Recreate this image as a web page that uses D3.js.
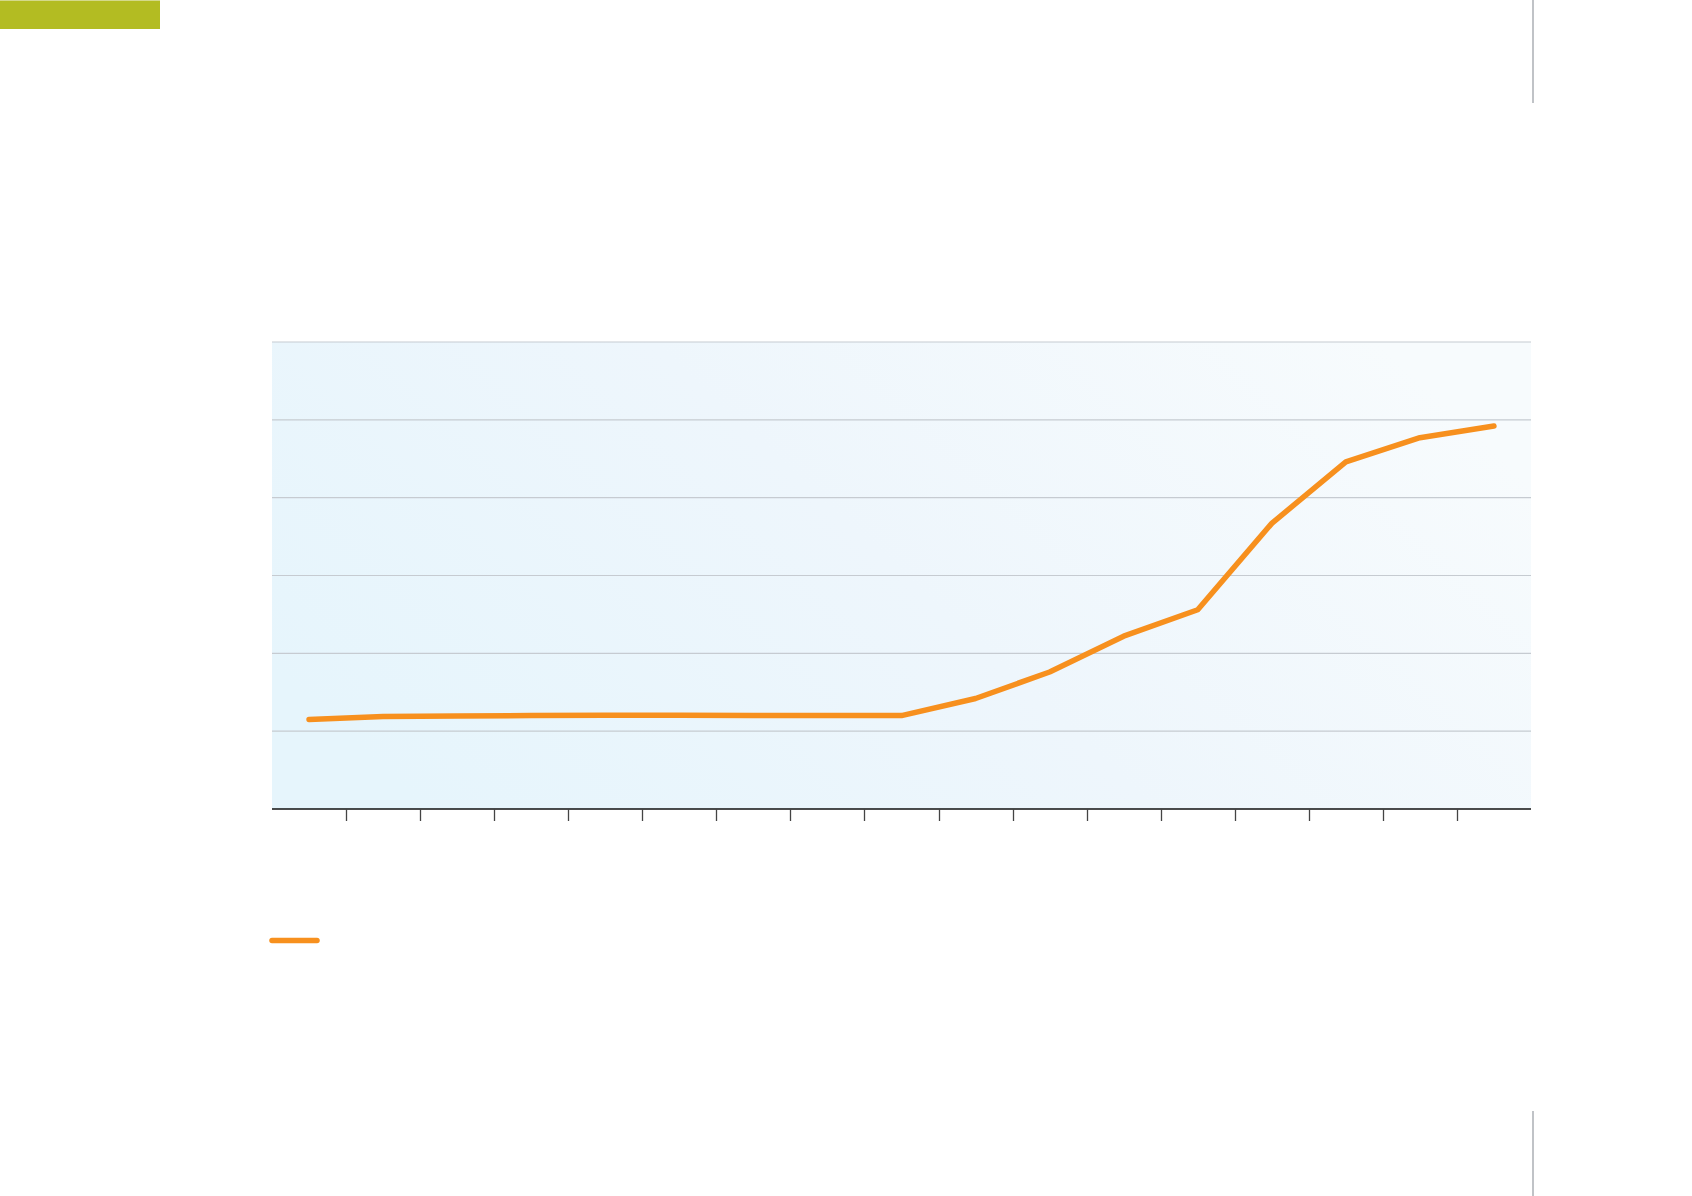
<!DOCTYPE html>
<html>
<head>
<meta charset="utf-8">
<script src="https://cdn.jsdelivr.net/npm/d3@7"></script>
<style>
html,body{margin:0;padding:0;background:#fff;}
svg{display:block;}
</style>
</head>
<body>
<svg id="chart" width="1692" height="1196"></svg>
<script>
// Data (no labels are printed in the reference)
const categories = ["1","2","3","4","5","6","7","8","9","10","11","12","13","14","15","16","17"];
const seriesValues = [11.5, 11.9, 11.95, 12.0, 12.05, 12.05, 12.0, 12.0, 12.0, 14.2, 17.6, 22.2, 25.6, 36.7, 44.6, 47.7, 49.2];
const yTicks = [0, 10, 20, 30, 40, 50, 60];

const svg = d3.select("#chart");
const W = 1692, H = 1196;
const margin = {left: 272, right: W - 1531, top: 342, bottom: H - 809};

// gradient
const defs = svg.append("defs");
const grad = defs.append("linearGradient").attr("id", "bg")
  .attr("x1", "0%").attr("y1", "70%").attr("x2", "100%").attr("y2", "30%");
grad.append("stop").attr("offset", "0%").attr("stop-color", "#e6f5fc");
grad.append("stop").attr("offset", "50%").attr("stop-color", "#eef6fc");
grad.append("stop").attr("offset", "100%").attr("stop-color", "#f7fbfd");

// top-left green block
svg.append("rect").attr("x", 0).attr("y", 0).attr("width", 160).attr("height", 29).attr("fill", "#b3bc22");
svg.append("line").attr("x1", 0).attr("x2", 160).attr("y1", 0.5).attr("y2", 0.5).attr("stroke", "#d4d98a").attr("stroke-width", 1);

// right vertical rules
svg.append("line").attr("x1", 1533).attr("x2", 1533).attr("y1", 0).attr("y2", 103).attr("stroke", "#c0c3c7").attr("stroke-width", 2);
svg.append("line").attr("x1", 1533).attr("x2", 1533).attr("y1", 1111).attr("y2", 1196).attr("stroke", "#c0c3c7").attr("stroke-width", 2);

const x = d3.scaleBand().domain(categories).range([margin.left, W - margin.right]).padding(0);
const y = d3.scaleLinear().domain([0, 60]).range([H - margin.bottom, margin.top]);

// plot background
svg.append("rect")
  .attr("x", margin.left).attr("y", margin.top)
  .attr("width", W - margin.left - margin.right)
  .attr("height", H - margin.top - margin.bottom)
  .attr("fill", "url(#bg)");

// gridlines
svg.append("g").selectAll("line").data(yTicks.filter(d => d > 0)).join("line")
  .attr("x1", margin.left).attr("x2", W - margin.right)
  .attr("y1", d => y(d)).attr("y2", d => y(d))
  .attr("stroke", "#c6cbd1").attr("stroke-width", 1.2);

// x axis with ticks at band boundaries
const xAxisG = svg.append("g").attr("transform", `translate(0,${H - margin.bottom})`);
xAxisG.append("line").attr("x1", margin.left).attr("x2", W - margin.right)
  .attr("y1", 0).attr("y2", 0).attr("stroke", "#111").attr("stroke-width", 1.6);
xAxisG.selectAll("line.tick").data(categories.slice(1)).join("line")
  .attr("class", "tick")
  .attr("x1", d => Math.round(x(d)) + 0.5).attr("x2", d => Math.round(x(d)) + 0.5)
  .attr("y1", 0).attr("y2", 12)
  .attr("stroke", "#444").attr("stroke-width", 1.3);

// line
const line = d3.line()
  .x((d, i) => x(categories[i]) + x.bandwidth() / 2)
  .y(d => y(d));
svg.append("path").datum(seriesValues)
  .attr("d", line)
  .attr("fill", "none")
  .attr("stroke", "#f7901e")
  .attr("stroke-width", 5.5)
  .attr("stroke-linejoin", "round")
  .attr("stroke-linecap", "round");

// legend swatch
svg.append("line").attr("x1", 272).attr("x2", 317).attr("y1", 940.5).attr("y2", 940.5)
  .attr("stroke", "#f7901e").attr("stroke-width", 5.5).attr("stroke-linecap", "round");
</script>
</body>
</html>
